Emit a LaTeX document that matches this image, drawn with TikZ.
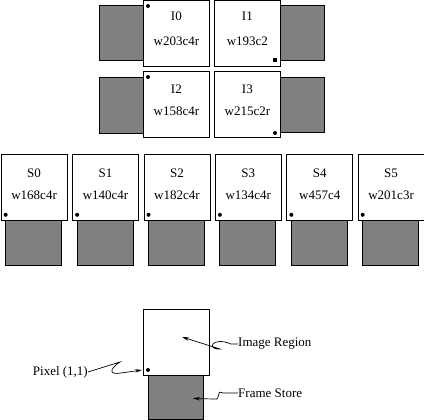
\documentclass[tikz,border=0pt]{standalone}
\usepackage{fontspec}
\setmainfont{Liberation Serif}
\usetikzlibrary{arrows.meta,calc}
\definecolor{StoreClr}{rgb}{0.5,0.5,0.5}

\begin{document}
\begin{tikzpicture}[x=1pt,y=-1pt,
  region/.style={draw,fill=white,line width=0.8pt,minimum size=66pt,inner sep=0pt,anchor=north west},
  store/.style={draw,fill=StoreClr,line width=0.8pt,inner sep=0pt,anchor=north west},
  pix/.style={circle,fill=black,inner sep=0pt,minimum size=4pt},
  txt/.style={font=\fontsize{13}{15}\selectfont,inner sep=0pt},
  ptr/.style={-{Stealth[length=7pt,width=3.5pt]},line width=0.7pt}]
\useasboundingbox (0,0) rectangle (424,420);

\node[store,minimum width=44pt,minimum height=55pt] (f0) at (99,5) {};
\node[region] (i0) at (143,0.5) {};
\node[store,minimum width=44pt,minimum height=55pt] (f1) at (280,5) {};
\node[region] (i1) at (214,0.5) {};
\node[store,minimum width=44pt,minimum height=56pt] (f2) at (99,77) {};
\node[region] (i2) at (143,71) {};
\node[store,minimum width=44pt,minimum height=55pt] (f3) at (280,77) {};
\node[region] (i3) at (214,71) {};

\node[txt] (i0a) at ($(i0.north)+(0,16)$) {I0};
\node[txt] (i0b) at ($(i0.north)+(0,41)$) {w203c4r};
\node[txt] (i1a) at ($(i1.north)+(0,16)$) {I1};
\node[txt] (i1b) at ($(i1.north)+(0,41)$) {w193c2};
\node[txt] (i2a) at ($(i2.north)+(0,18)$) {I2};
\node[txt] (i2b) at ($(i2.north)+(0,40)$) {w158c4r};
\node[txt] (i3a) at ($(i3.north)+(0,18)$) {I3};
\node[txt] (i3b) at ($(i3.north)+(0,40)$) {w215c2r};

\node[pix] (i0p) at (148,6) {};
\node[fill=black,inner sep=0pt,minimum size=4pt] (i1p) at (275,60) {};
\node[pix] (i2p) at (148,77) {};
\node[pix] (i3p) at (275,133) {};

\foreach \n/\w [count=\k from 0] in {S0/w168c4r,S1/w140c4r,S2/w182c4r,S3/w134c4r,S4/w457c4,S5/w201c3r}{
  \node[store,minimum width=56pt,minimum height=45pt] (sf\k) at (0.7+71.4*\k+4.5,220) {};
  \node[region] (s\k) at (0.7+71.4*\k,154) {};
  \node[txt] (s\k a) at ($(s\k.north)+(0,19)$) {\n};
  \node[txt] (s\k b) at ($(s\k.north)+(0,41)$) {\w};
  \node[pix] (s\k p) at ($(s\k.south west)+(5,-6)$) {};
}

\node[store,minimum width=55pt,minimum height=44pt] (fs) at (148,375) {};
\node[region] (ir) at (143,309) {};
\node[pix] (irp) at (148,370) {};

\node[txt,anchor=west] (irl) at (238,344) {Image Region};
\node[txt,anchor=west] (fsl) at (238,393) {Frame Store};
\node[txt,anchor=east] (pxl) at (88,372) {Pixel (1,1)};

\coordinate (irt) at (182,337);
\coordinate (fst) at (193,398.5);
\coordinate (pxt) at (142,370);

\draw[ptr] (irl.west) -- (231,344) .. controls (212,336) and (206,350) .. (220,349) -- (irt);
\draw[ptr] (fsl.west) -- (223,393) .. controls (215,389) and (222,401) .. (214,399) -- (fst);
\draw[ptr] (pxl.east) -- (120,362) .. controls (108,370) and (110,375) .. (121,373) -- (pxt);

\end{tikzpicture}
\end{document}
